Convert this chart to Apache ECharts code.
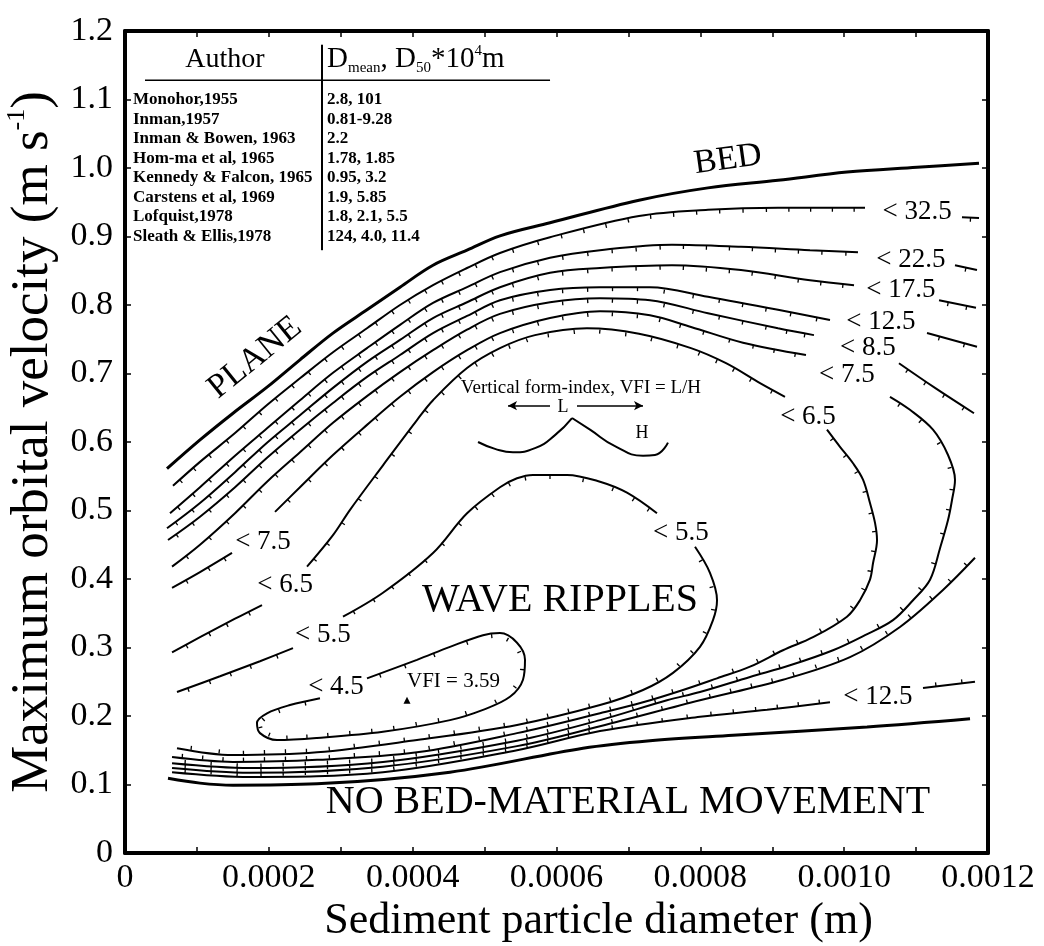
<!DOCTYPE html>
<html><head><meta charset="utf-8">
<script src="https://cdn.jsdelivr.net/npm/echarts/dist/echarts.min.js"></script>
<style>html,body{margin:0;padding:0;background:#fff}#c{width:1044px;height:946px}</style>
</head><body><div id="c"></div>
<script>
// ---------- tick labels ----------
const xTickLabels = ['0','0.0002','0.0004','0.0006','0.0008','0.0010','0.0012'];
const yTickLabels = ['0','0.1','0.2','0.3','0.4','0.5','0.6','0.7','0.8','0.9','1.0','1.1','1.2'];

// ---------- boundaries (x = diameter m, y = velocity m/s) ----------
const bedBoundary = [[0.0000584,0.561],[0.0001043,0.603],[0.0001502,0.642],[0.0001975,0.680],[0.0002433,0.720],[0.0002892,0.759],[0.0003365,0.793],[0.0003824,0.826],[0.0004283,0.858],[0.0004756,0.880],[0.0005214,0.901],[0.0005910,0.920],[0.0007147,0.953],[0.0008106,0.971],[0.0009080,0.982],[0.0010039,0.994],[0.0011013,1.001],[0.0011875,1.007]];
const noMovementBoundary = [[0.0000598,0.109],[0.0001043,0.102],[0.0001502,0.099],[0.0002670,0.101],[0.0004519,0.118],[0.0006368,0.153],[0.0007300,0.164],[0.0008454,0.172],[0.0010318,0.184],[0.0011750,0.196]];

// ---------- VFI contours (segments broken where labels sit) ----------
const vfi325 = [
 [[0.0000667,0.536],[0.0001043,0.571],[0.0001530,0.613],[0.0001975,0.654],[0.0002433,0.693],[0.0002892,0.731],[0.0003365,0.766],[0.0003824,0.800],[0.0004283,0.829],[0.0004756,0.854],[0.0005214,0.876],[0.0005910,0.899],[0.0007147,0.930],[0.0008106,0.939],[0.0009080,0.942],[0.0010290,0.942]],
 [[0.0011638,0.928],[0.0011875,0.927]]
];
const vfi225 = [
 [[0.0000626,0.496],[0.0001043,0.534],[0.0001530,0.580],[0.0001975,0.620],[0.0002433,0.661],[0.0002892,0.701],[0.0003365,0.737],[0.0003824,0.771],[0.0004283,0.803],[0.0004756,0.826],[0.0005214,0.848],[0.0005910,0.869],[0.0006605,0.880],[0.0007606,0.888],[0.0008565,0.885],[0.0009525,0.880],[0.0010192,0.877]],
 [[0.0011541,0.858],[0.0011847,0.851]]
];
const vfi175 = [
 [[0.0000584,0.474],[0.0001043,0.511],[0.0001530,0.556],[0.0001975,0.599],[0.0002433,0.639],[0.0002892,0.679],[0.0003365,0.717],[0.0003824,0.749],[0.0004283,0.781],[0.0004756,0.804],[0.0005214,0.826],[0.0005910,0.847],[0.0006605,0.854],[0.0007606,0.858],[0.0008565,0.851],[0.0009525,0.836],[0.0010137,0.829]],
 [[0.0011319,0.807],[0.0011833,0.796]]
];
const vfi125 = [
 [[0.0000598,0.457],[0.0001043,0.491],[0.0001530,0.534],[0.0001975,0.577],[0.0002433,0.618],[0.0002892,0.657],[0.0003365,0.695],[0.0003824,0.727],[0.0004283,0.759],[0.0004756,0.784],[0.0005214,0.807],[0.0005910,0.822],[0.0006605,0.826],[0.0007300,0.826],[0.0008106,0.812],[0.0009080,0.793],[0.0009803,0.778]],
 [[0.0011152,0.759],[0.0011847,0.739]]
];
const vfi125Lower = [
 [[0.0011819,0.250],[0.0011096,0.241]],
 [[0.0009803,0.220],[0.0008927,0.209],[0.0007995,0.199],[0.0006605,0.178],[0.0005451,0.150],[0.0003587,0.118],[0.0001738,0.111],[0.0000654,0.118]]
];
const vfi85 = [
 [[0.0000654,0.418],[0.0001043,0.450],[0.0001530,0.496],[0.0001975,0.542],[0.0002433,0.585],[0.0002892,0.628],[0.0003365,0.667],[0.0003824,0.702],[0.0004283,0.734],[0.0004756,0.764],[0.0005214,0.787],[0.0005910,0.804],[0.0006605,0.810],[0.0007300,0.807],[0.0008106,0.788],[0.0009080,0.766],[0.0009580,0.756]],
 [[0.0010762,0.715],[0.0011263,0.679],[0.0011805,0.642]]
];
const vfi85Lower = [
 [[0.0011819,0.431],[0.0011374,0.384],[0.0010776,0.330],[0.0010081,0.286],[0.0009149,0.253],[0.0007995,0.223],[0.0006605,0.185],[0.0005451,0.156],[0.0003587,0.126],[0.0001738,0.117],[0.0000654,0.124]]
];
const vfi75 = [
 [[0.0000654,0.387],[0.0001043,0.410],[0.0001488,0.438]],
 [[0.0002086,0.498],[0.0002433,0.534],[0.0002892,0.581],[0.0003365,0.625],[0.0003824,0.666],[0.0004283,0.702],[0.0004756,0.734],[0.0005214,0.759],[0.0005910,0.781],[0.0006605,0.791],[0.0007300,0.785],[0.0007870,0.768],[0.0008593,0.745],[0.0009469,0.727]],
 [[0.0010637,0.666],[0.0010915,0.647],[0.0011235,0.618],[0.0011444,0.581],[0.0011541,0.545],[0.0011499,0.515],[0.0011444,0.486],[0.0011333,0.445],[0.0011194,0.399],[0.0010957,0.369],[0.0010679,0.340],[0.0010290,0.318],[0.0009845,0.296],[0.0009247,0.274],[0.0008691,0.257],[0.0007995,0.235],[0.0007536,0.223],[0.0006605,0.194],[0.0005451,0.164],[0.0003587,0.133],[0.0001738,0.124],[0.0000654,0.131]]
];
const vfi65 = [
 [[0.0000654,0.293],[0.0001043,0.315],[0.0001530,0.342],[0.0001905,0.362]],
 [[0.0002531,0.418],[0.0002892,0.464],[0.0003129,0.501],[0.0003587,0.566],[0.0004060,0.632],[0.0004283,0.661],[0.0004756,0.708],[0.0005214,0.737],[0.0005701,0.756],[0.0006424,0.766],[0.0007147,0.758],[0.0007870,0.737],[0.0008357,0.715],[0.0008830,0.686],[0.0009177,0.666]],
 [[0.0009761,0.618],[0.0009942,0.593],[0.0010123,0.569],[0.0010262,0.545],[0.0010359,0.511],[0.0010429,0.482],[0.0010457,0.457],[0.0010401,0.423],[0.0010359,0.399],[0.0010220,0.369],[0.0010039,0.345],[0.0009567,0.315],[0.0009149,0.296],[0.0008691,0.272],[0.0008232,0.255],[0.0007759,0.238],[0.0007203,0.220],[0.0006605,0.204],[0.0005451,0.175],[0.0004060,0.147],[0.0002670,0.136],[0.0001502,0.133],[0.0000654,0.140]]
];
const vfi55 = [
 [[0.0000723,0.235],[0.0001321,0.258],[0.0001877,0.280],[0.0002336,0.299]],
 [[0.0003031,0.345],[0.0003587,0.380],[0.0004283,0.438],[0.0004756,0.496],[0.0005214,0.534],[0.0005451,0.547],[0.0005673,0.552],[0.0006146,0.552],[0.0006605,0.542],[0.0006980,0.526],[0.0007397,0.496]],
 [[0.0007926,0.447],[0.0008134,0.409],[0.0008232,0.369],[0.0008176,0.340],[0.0007995,0.301],[0.0007620,0.263],[0.0007203,0.238],[0.0006605,0.216],[0.0005451,0.187],[0.0004060,0.165],[0.0002670,0.147],[0.0001502,0.143],[0.0000723,0.153]]
];
const vfi45 = [
 [[0.0003365,0.255],[0.0004060,0.282],[0.0004519,0.301],[0.0004978,0.318],[0.0005214,0.321],[0.0005451,0.307],[0.0005562,0.282],[0.0005534,0.253],[0.0005353,0.228],[0.0004978,0.209],[0.0004519,0.194],[0.0003587,0.177],[0.0002670,0.168],[0.0002114,0.165],[0.0001877,0.175],[0.0001835,0.190],[0.0001975,0.204],[0.0002294,0.216],[0.0002711,0.226]]
];
const vfiMinimum = [[0.0003921,0.223]];

// ---------- ripple sketch (L / H definition) ----------
const rippleLeft = [[0.0004909,0.600],[0.0005145,0.590],[0.0005395,0.585],[0.0005701,0.591],[0.0005979,0.610],[0.0006216,0.635]];
const rippleRight = [[0.0006216,0.635],[0.0006466,0.618],[0.0006813,0.594],[0.0007203,0.580],[0.0007370,0.581],[0.0007550,0.599]];
const arrowL = [[0.0005910,0.653],[0.0005326,0.653]];
const arrowR = [[0.0006285,0.653],[0.0007203,0.653]];

// ---------- contour labels ----------
const contourLabelTexts = ['< 32.5','< 22.5','< 17.5','< 12.5','< 8.5','< 7.5','< 6.5','< 5.5','< 12.5','< 7.5','< 6.5','< 5.5','< 4.5'];
const contourLabelPos = [[0.0011013,0.936],[0.0010929,0.866],[0.0010790,0.822],[0.0010512,0.775],[0.0010331,0.737],[0.0010039,0.698],[0.0009497,0.636],[0.0007731,0.467],[0.0010470,0.228],[0.0001919,0.454],[0.0002225,0.391],[0.0002753,0.318],[0.0002934,0.242]];

// ---------- data table ----------
const authors = ['Monohor,1955','Inman,1957','Inman & Bowen, 1963','Hom-ma et al, 1965','Kennedy & Falcon, 1965','Carstens et al, 1969','Lofquist,1978','Sleath & Ellis,1978'];
const diameters = ['2.8, 101','0.81-9.28','2.2','1.78, 1.85','0.95, 3.2','1.9, 5.85','1.8, 2.1, 5.5','124, 4.0, 11.4'];
const tableRowY = [1.100,1.071,1.043,1.014,0.986,0.957,0.929,0.900];

const FONT = "'Liberation Serif','Times New Roman',serif";

function lineSeries(data, width, smooth) {
  return {type:'line', data:data, showSymbol:false, symbol:'none', smooth: smooth===undefined?0.35:smooth,
    lineStyle:{color:'#000', width:width, opacity:1}, silent:true, z:2, animation:false, clip:false};
}
function hachureSeries(seg, side) {
  return {type:'custom', coordinateSystem:'cartesian2d', silent:true, z:3, animation:false,
    data: seg.map(function(p){return [p[0],p[1]];}),
    encode:{x:0,y:1},
    renderItem: function(params, api){
      const i = params.dataIndex;
      if (i >= seg.length-1) return null;
      const a = api.coord(seg[i]), b = api.coord(seg[i+1]);
      const dx=b[0]-a[0], dy=b[1]-a[1]; const L=Math.hypot(dx,dy);
      if (L < 1) return null;
      const n = Math.max(1, Math.round(L/24));
      const nx = -dy/L*side, ny = dx/L*side;
      const children=[];
      for (let k=0;k<n;k++){
        const t=(k+0.5)/n; const px=a[0]+dx*t, py=a[1]+dy*t;
        children.push({type:'line', shape:{x1:px,y1:py,x2:px+nx*4,y2:py+ny*4}, style:{stroke:'#000', lineWidth:1.3}});
      }
      return {type:'group', children:children};
    }
  };
}

// ---------- text annotations (placed in data coordinates) ----------
const texts = [];
function addText(pos, text, size, opts) {
  opts = opts || {};
  texts.push({pos:pos, text:text, size:size, rotate:opts.rotate||0, align:opts.align||'center', weight:opts.weight||'normal', rich:opts.rich});
}
contourLabelTexts.forEach(function(t,i){ addText(contourLabelPos[i], t, 27); });
addText([0.0008385,1.012], 'BED', 34, {rotate:8});
addText([0.0001808,0.723], 'PLANE', 34, {rotate:39});
addText([0.0006049,0.369], 'WAVE RIPPLES', 40);
addText([0.0006994,0.073], 'NO BED-MATERIAL MOVEMENT', 40);
addText([0.000634,0.679], 'Vertical form-index, VFI = L/H', 19);
addText([0.0006091,0.650], 'L', 18);
addText([0.0007189,0.613], 'H', 18);
addText([0.0003921,0.250], 'VFI = 3.59', 21, {align:'left'});
addText([0.000139,1.158], 'Author', 28);
addText([0.000281,1.158], '{m|D}{sub|mean}{m|, D}{sub|50}{m|*10}{sup|4}{m|m}', 29, {align:'left',
  rich:{m:{fontSize:29, fontFamily:FONT, fill:'#000', lineHeight:32},
        sub:{fontSize:15, fontFamily:FONT, fill:'#000', verticalAlign:'bottom', lineHeight:32},
        sup:{fontSize:15, fontFamily:FONT, fill:'#000', verticalAlign:'top', lineHeight:32}}});
authors.forEach(function(a,i){ addText([0.0000111, tableRowY[i]], a, 17, {align:'left', weight:'bold'}); });
diameters.forEach(function(d,i){ addText([0.000281, tableRowY[i]], d, 17, {align:'left', weight:'bold'}); });

const textSeries = {type:'custom', coordinateSystem:'cartesian2d', silent:true, z:10, animation:false, clip:false,
  data: texts.map(function(t){ return t.pos; }), encode:{x:0,y:1},
  renderItem: function(params, api){
    const t = texts[params.dataIndex];
    const p = api.coord(t.pos);
    return {type:'text', x:p[0], y:p[1], rotation:t.rotate*Math.PI/180,
      style:{text:t.text, fill:'#000', fontSize:t.size, fontFamily:FONT, fontWeight:t.weight,
        align:t.align, verticalAlign:'middle', rich:t.rich}};
  }
};

const series = [];
series.push(lineSeries(bedBoundary, 3));
series.push(lineSeries(noMovementBoundary, 3));
const contourGroups = [vfi325, vfi225, vfi175, vfi125, vfi125Lower, vfi85, vfi85Lower, vfi75, vfi65, vfi55, vfi45];
contourGroups.forEach(function(g){
  g.forEach(function(seg){
    series.push(lineSeries(seg, 2));
    series.push(hachureSeries(seg, 1));
  });
});
series.push(lineSeries(rippleLeft, 2, 0.5));
series.push(lineSeries(rippleRight, 2, 0.5));
series.push({type:'line', data:[], silent:true, animation:false,
  markLine:{silent:true, animation:false, symbol:['none','arrow'], symbolSize:[7,9], label:{show:false},
    lineStyle:{color:'#000', width:1.5, type:'solid', opacity:1},
    data:[[{coord:arrowL[0]},{coord:arrowL[1]}],[{coord:arrowR[0]},{coord:arrowR[1]}]]}});
// table lines
series.push(lineSeries([[0.0000278,1.128],[0.000591,1.128]], 1.5, false));
series.push(lineSeries([[0.0002739,1.180],[0.0002739,0.880]], 2, false));
// min VFI marker
series.push({type:'scatter', data:vfiMinimum, symbol:'triangle', symbolSize:7, itemStyle:{color:'#000', opacity:1}, silent:true, animation:false, z:4});
series.push(textSeries);

const axisCommon = {
  type:'value', axisLine:{show:true, onZero:false, lineStyle:{color:'#000', width:4}},
  axisTick:{show:true, inside:true, length:6, lineStyle:{color:'#000', width:1.5}},
  splitLine:{show:false}
};
const chart = echarts.init(document.getElementById('c'), null, {renderer:'canvas'});
chart.setOption({
  animation:false,
  backgroundColor:'#fff',
  grid:{left:125, right:56, top:31, bottom:93, containLabel:false, outerBoundsMode:'none'},
  xAxis:[
    Object.assign({}, axisCommon, {position:'bottom', min:0, max:0.0012, interval:0.0001,
      name:'Sediment particle diameter (m)', nameLocation:'middle', nameGap:46,
      nameTextStyle:{fontFamily:FONT, fontSize:44, color:'#000', padding:[0,0,0,84]},
      axisLabel:{show:true, color:'#000', fontFamily:FONT, fontSize:34, margin:8, showMinLabel:true, showMaxLabel:true, hideOverlap:false,
        formatter:function(v){ const k=Math.round(v/0.0001); return k%2===0 ? xTickLabels[k/2] : ''; }}}),
    Object.assign({}, axisCommon, {position:'top', min:0, max:0.0012, interval:0.0001, axisLabel:{show:false}})
  ],
  yAxis:[
    Object.assign({}, axisCommon, {position:'left', min:0, max:1.2, interval:0.1,
      name:'Maximum orbital velocity (m s{sup|-1})', nameLocation:'middle', nameGap:58, nameRotate:90,
      nameTextStyle:{fontFamily:FONT, fontSize:53, color:'#000', rich:{sup:{fontFamily:FONT, fontSize:26, color:'#000', verticalAlign:'top', lineHeight:57}}},
      axisLabel:{show:true, color:'#000', fontFamily:FONT, fontSize:34, margin:12, showMinLabel:true, showMaxLabel:true, hideOverlap:false,
        formatter:function(v){ return yTickLabels[Math.round(v*10)]; }}}),
    Object.assign({}, axisCommon, {position:'right', min:0, max:1.2, interval:0.1, axisLabel:{show:false}})
  ],
  series:series
});
</script></body></html>
